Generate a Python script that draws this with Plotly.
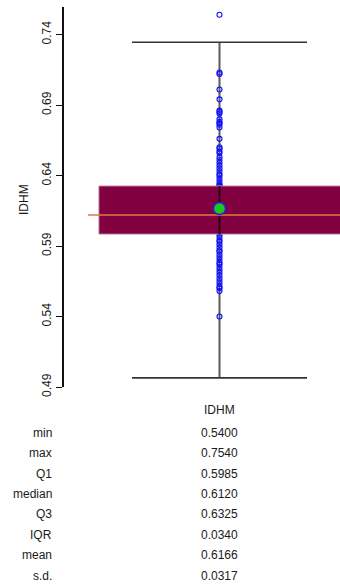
import plotly.graph_objects as go

# ---- data ----
var_name = "IDHM"
point_values = [
    0.754, 0.713, 0.712, 0.701, 0.694, 0.686, 0.685, 0.684, 0.680, 0.678, 0.677,
    0.676, 0.674, 0.666, 0.660, 0.659, 0.657, 0.656, 0.653, 0.651,
    0.649, 0.647, 0.645, 0.643, 0.641, 0.640,
    0.638, 0.636, 0.634, 0.633,
    0.632, 0.630, 0.628, 0.625, 0.622, 0.620, 0.618, 0.615, 0.612, 0.610, 0.607,
    0.605, 0.603, 0.601, 0.600,
    0.598, 0.596, 0.594, 0.593, 0.591, 0.589, 0.587,
    0.586, 0.584, 0.582, 0.580, 0.578, 0.577,
    0.575, 0.573, 0.571, 0.569, 0.567, 0.565, 0.563, 0.561, 0.560, 0.558, 0.540,
]
q1, median, q3 = 0.5985, 0.6120, 0.6325
whisker_low, whisker_high = 0.4965, 0.7345
mean_value = 0.6166
stat_names = ["min", "max", "Q1", "median", "Q3", "IQR", "mean", "s.d."]
stat_values = ["0.5400", "0.7540", "0.5985", "0.6120", "0.6325", "0.0340", "0.6166", "0.0317"]
y_ticks = [0.49, 0.54, 0.59, 0.64, 0.69, 0.74]

# ---- geometry (pixel-based layout) ----
W, H = 340, 586
PL, PT, PB = 64, 7, 387          # plot area left, top, bottom (px)
PW = W - PL
y_per_px = 0.05 / 70.5
y_lo = 0.49
y_hi = y_lo + (PB - PT) * y_per_px

def xp(px):  # pixel x -> data x (x range 0..1 over plot width)
    return (px - PL) / PW

def yp(py):  # pixel y -> paper y
    return (PB - py) / (PB - PT)

cx = xp(219.5)
box_l, box_r = xp(99), xp(341)
cap_l, cap_r = xp(132), xp(307)
med_l, med_r = xp(88), xp(341)

fig = go.Figure()

# vertical whisker line (behind points)
fig.add_trace(go.Scatter(
    x=[cx, cx], y=[whisker_low, whisker_high], mode="lines",
    line=dict(color="#5a5a5a", width=2), hoverinfo="skip", showlegend=False))

# individual points
fig.add_trace(go.Scatter(
    x=[cx] * len(point_values), y=point_values, mode="markers",
    marker=dict(symbol="circle-open", size=5, color="#1010ff", line=dict(width=1.1, color="#1010ff")),
    hoverinfo="y", showlegend=False))

# box (Q1-Q3)
fig.add_trace(go.Scatter(
    x=[box_l, box_r, box_r, box_l, box_l], y=[q1, q1, q3, q3, q1],
    mode="lines", fill="toself", fillcolor="#800040",
    line=dict(color="#b8709a", width=1), hoverinfo="skip", showlegend=False))

# whisker line segment drawn over the box
fig.add_trace(go.Scatter(
    x=[cx, cx], y=[q1, q3], mode="lines",
    line=dict(color="#2d0016", width=2), hoverinfo="skip", showlegend=False))

# whisker caps
for v in (whisker_low, whisker_high):
    fig.add_trace(go.Scatter(
        x=[cap_l, cap_r], y=[v, v], mode="lines",
        line=dict(color="#333333", width=1.6), hoverinfo="skip", showlegend=False))

# median line
fig.add_trace(go.Scatter(
    x=[med_l, med_r], y=[median, median], mode="lines",
    line=dict(color="#e0783c", width=1.6), hoverinfo="skip", showlegend=False))

# mean point
fig.add_trace(go.Scatter(
    x=[cx], y=[mean_value], mode="markers",
    marker=dict(symbol="circle", size=12, color="#22c422", line=dict(width=1.5, color="#2020e0")),
    hoverinfo="y", showlegend=False))

font_family = "Liberation Sans, Arial, sans-serif"
txt_color = "#1a1a1a"
annotations = []
# y-axis title
annotations.append(dict(x=(24 - PL) / PW, y=yp(200), xref="paper", yref="paper",
                        text=var_name, showarrow=False, textangle=-90,
                        font=dict(size=12, color=txt_color), xanchor="center", yanchor="middle"))
# column header
annotations.append(dict(x=cx, y=yp(410), xref="x", yref="paper", text=var_name,
                        showarrow=False, font=dict(size=12, color=txt_color),
                        xanchor="center", yanchor="middle"))
row_y0, row_dy = 432.7, 20.4
for i, (nm, val) in enumerate(zip(stat_names, stat_values)):
    py = row_y0 + i * row_dy
    annotations.append(dict(x=(54 - PL) / PW, y=yp(py), xref="paper", yref="paper", text=nm,
                            showarrow=False, font=dict(size=12, color=txt_color),
                            xanchor="right", yanchor="middle"))
    annotations.append(dict(x=cx, y=yp(py), xref="x", yref="paper", text=val,
                            showarrow=False, font=dict(size=12, color=txt_color),
                            xanchor="center", yanchor="middle"))

fig.update_layout(
    width=W, height=H,
    margin=dict(l=PL, r=0, t=PT, b=H - PB, pad=0),
    paper_bgcolor="white", plot_bgcolor="white",
    font=dict(family=font_family, size=12, color=txt_color),
    xaxis=dict(range=[0, 1], visible=False, fixedrange=True),
    yaxis=dict(range=[y_lo, y_hi], tickvals=y_ticks, ticktext=[f"{t:.2f}" for t in y_ticks],
               ticks="outside", ticklen=6, tickwidth=1.2, tickcolor="#111",
               showline=True, linecolor="#111", linewidth=1.5, showgrid=False, zeroline=False,
               tickangle=-90, tickfont=dict(size=12, color=txt_color), fixedrange=True),
    annotations=annotations,
    showlegend=False,
)

fig.write_html("out.html")
